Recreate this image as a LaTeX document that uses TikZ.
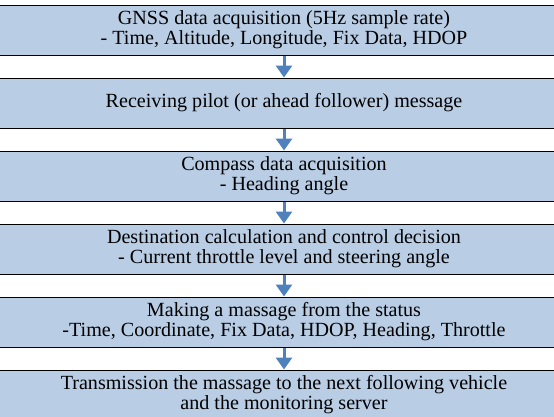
\documentclass[tikz,border=0pt]{standalone}
\usepackage{fontspec}
\setmainfont{Liberation Serif}
\newfontfamily\stagefont{Liberation Serif}
\usetikzlibrary{positioning}
\usetikzlibrary{arrows.meta}
\definecolor{boxblue}{HTML}{B9CDE5}
\definecolor{flowblue}{HTML}{4F81BD}
\tikzset{
  stage/.style={draw=black,line width=1pt,fill=boxblue,minimum width=620pt,
    minimum height=50pt,inner sep=0pt,align=center,
    font=\stagefont\fontsize{20.1}{20}\selectfont},
  flow/.style={flowblue,line width=3pt,-{Triangle[width=16pt,length=12pt]}}
}
\begin{document}
\begin{tikzpicture}[x=1pt,y=1pt]
        \useasboundingbox (0,0) rectangle (554,-416);
        \clip (0,0) rectangle (554,-416);
        \def\gap{22pt}
        \node[stage] (gnss) at (284,-30) {GNSS data acquisition (5Hz sample rate)\\- Time, Altitude, Longitude, Fix Data, HDOP};
        \node[stage,below=\gap of gnss] (recv) {Receiving pilot (or ahead follower) message};
        \node[stage,below=\gap of recv] (comp) {Compass data acquisition\\- Heading angle};
        \node[stage,below=\gap of comp] (dest) {Destination calculation and control decision\\- Current throttle level and steering angle};
        \node[stage,below=\gap of dest] (make) {Making a massage from the status\\-Time, Coordinate, Fix Data, HDOP, Heading, Throttle};
        \node[stage,below=\gap of make] (send) {Transmission the massage to the next following vehicle\\and the monitoring server};
        \draw[flow] (gnss) -- (recv);
        \draw[flow] (recv) -- (comp);
        \draw[flow] (comp) -- (dest);
        \draw[flow] (dest) -- (make);
        \draw[flow] (make) -- (send);
\end{tikzpicture}
\end{document}
